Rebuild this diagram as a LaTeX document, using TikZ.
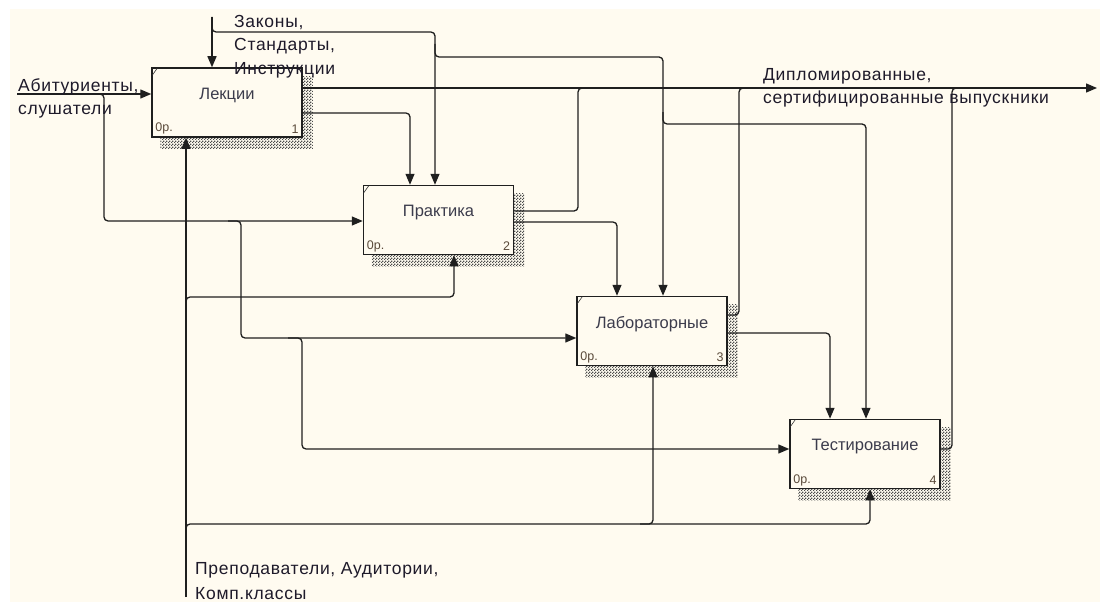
\documentclass[tikz,border=0pt]{standalone}
\usepackage{fontspec}
\setmainfont{Liberation Sans}
\usetikzlibrary{arrows.meta,patterns,calc,backgrounds}
\definecolor{bgc}{HTML}{FFFBF0}
\definecolor{txt}{HTML}{1E1A2A}
\definecolor{btxt}{HTML}{3C3C4C}
\definecolor{ntxt}{HTML}{5A4A3A}
\pgfdeclarepatternformonly{chk}{\pgfpointorigin}{\pgfqpoint{3pt}{3pt}}{\pgfqpoint{3pt}{3pt}}{%
 \pgfpathrectangle{\pgfpointorigin}{\pgfqpoint{1.5pt}{1.5pt}}%
 \pgfpathrectangle{\pgfqpoint{1.5pt}{1.5pt}}{\pgfqpoint{1.5pt}{1.5pt}}%
 \pgfusepath{fill}}
\tikzset{
 conn/.style={line width=1.3pt, draw=black!88, rounded corners=4pt},
 arr/.style={conn, -{Triangle[length=11pt,width=9pt]}},
 box/.style={draw=black!88, line width=1.5pt, fill=bgc, minimum width=150pt, minimum height=69pt, inner sep=0pt},
 shadow/.style={pattern=chk, pattern color=black!70},
 title/.style={font=\fontsize{16.5}{19}\selectfont, text=btxt, inner sep=0pt},
 corner/.style={font=\fontsize{12.5}{14}\selectfont, text=ntxt, inner sep=0pt},
 lbl/.style={font=\addfontfeatures{LetterSpace=4}\fontsize{17.5}{23.3}\selectfont, text=txt, align=left, inner sep=0pt, anchor=north west},
 tick/.style={line width=0.6pt, draw=black!80},
}
\begin{document}
\begin{tikzpicture}[x=1pt,y=-1pt]
\useasboundingbox (0,0) rectangle (1100,602);
% boxes
\node[box] (b1) at (227,102.5) {};
\node[box] (b2) at (438.5,220) {};
\node[box] (b3) at (652,331) {};
\node[box] (b4) at (865,454) {};
\begin{scope}[on background layer]
\fill[bgc] (10,9) rectangle (1100,602);
\foreach \b in {b1,b2,b3,b4}{
  \fill[shadow] ($(\b.north west)+(9,9)$) rectangle ($(\b.south east)+(10,11)$);
}
\end{scope}
\foreach \b/\t/\n in {b1/Лекции/1,b2/Практика/2,b3/Лабораторные/3,b4/Тестирование/4}{
  \node[title] (\b t) at ($(\b.north)+(0,28)$) {\t};
  \node[corner, anchor=west] (\b o) at ($(\b.south west)+(4,-9)$) {0р.};
  \node[corner, anchor=east] (\b n) at ($(\b.south east)+(-4,-9)$) {\n};
  \draw[tick] ($(\b.north west)+(1,8)$) -- ($(\b.north west)+(6,1)$);
}
% free ends
\coordinate (ctop) at (212,17);
\coordinate (inl) at (17,94);
\coordinate (outr) at (1097,88);
\coordinate (mbot) at (186,597);
% controls
\draw[arr] (ctop) -- (212,0 |- b1.north);
\draw[arr] (ctop) -- (212,32) -- (435,32) -- (435,0 |- b2.north);
\draw[arr] (435,44) -- (435,57) -- (663,57) -- (663,0 |- b3.north);
\draw[arr] (663,112) -- (663,124) -- (866,124) -- (866,0 |- b4.north);
% outputs
\draw[arr] (b1.east |- 0,88) -- (outr);
\draw[arr] (b1.east |- 0,113) -- (410,113) -- (410,0 |- b2.north);
\draw[conn] (b2.east |- 0,211) -- (578,211) -- (578,88) -- (592,88);
\draw[arr] (b2.east |- 0,222) -- (617,222) -- (617,0 |- b3.north);
\draw[conn] (b3.east |- 0,315) -- (739,315) -- (739,88) -- (752,88);
\draw[arr] (b3.east |- 0,333) -- (830,333) -- (830,0 |- b4.north);
\draw[conn] (b4.east |- 0,449) -- (952,449) -- (952,88) -- (965,88);
% inputs
\draw[arr] (inl) -- (b1.west |- 0,94);
\draw[arr] (92,94) -- (104,94) -- (104,221) -- (b2.west |- 0,221);
\draw[arr] (228,221) -- (241,221) -- (241,338) -- (b3.west |- 0,338);
\draw[arr] (288,338) -- (302,338) -- (302,449) -- (b4.west |- 0,449);
% mechanisms
\draw[arr] (mbot) -- (186,0 |- b1.south);
\draw[arr] (186,310) -- (186,297) -- (454,297) -- (454,0 |- b2.south);
\draw[arr] (186,536) -- (186,524) -- (870,524) -- (870,0 |- b4.south);
\draw[arr] (640,524) -- (653,524) -- (653,0 |- b3.south);
% labels
\node[lbl] (lin) at (18,78) {Абитуриенты,\\слушатели};
\node[lbl] (lctl) at (234,15) {Законы,\\Стандарты,\\Инструкции};
\node[lbl] (lout) at (763,68) {Дипломированные,\\сертифицированные выпускники};
\node[lbl, font=\addfontfeatures{LetterSpace=4}\fontsize{17.5}{25}\selectfont] (lmech) at (195,562) {Преподаватели, Аудитории,\\Комп.классы};
\end{tikzpicture}
\end{document}
